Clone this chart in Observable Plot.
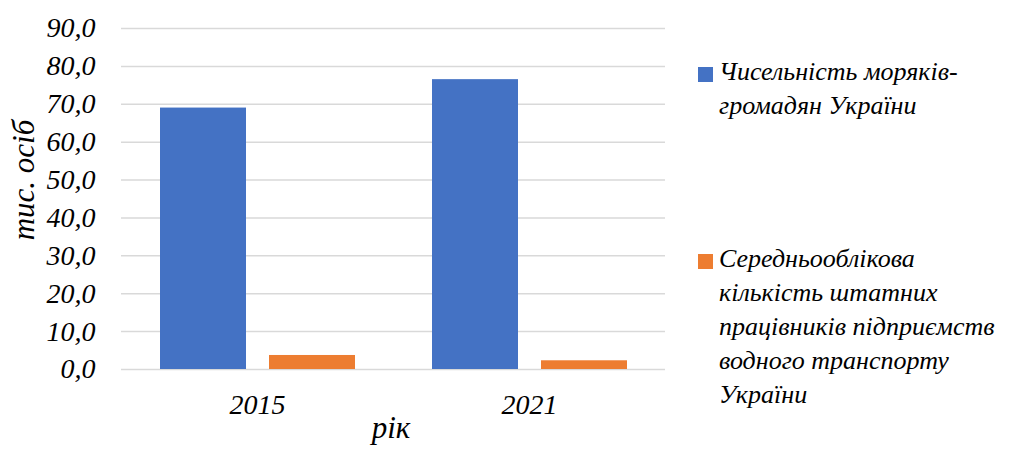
<!DOCTYPE html>
<html>
<head>
<meta charset="utf-8">
<script src="https://cdn.jsdelivr.net/npm/d3@7"></script>
<script src="https://cdn.jsdelivr.net/npm/@observablehq/plot@0.6"></script>
<style>
  html, body { margin: 0; padding: 0; background: #fff; }
  #wrap { position: relative; width: 1027px; height: 457px; font-family: "Liberation Serif", Tinos, "DejaVu Serif", serif; font-style: italic; }
  .legend { position: absolute; left: 698px; font-size: 26px; line-height: 34px; color: #000; }
  .legend .sw { position: absolute; left: 0; width: 15px; height: 15px; }
  .legend .tx { position: absolute; left: 21px; white-space: nowrap; }
  svg text { font-family: "Liberation Serif", Tinos, "DejaVu Serif", serif !important; }
</style>
</head>
<body>
<div id="wrap"></div>
<script>
const years = ["2015", "2021"];
const seriesNames = [
  "Чисельність моряків-громадян України",
  "Середньооблікова кількість штатних працівників підприємств водного транспорту України"
];
const legendLines = [
  ["Чисельність моряків-", "громадян України"],
  ["Середньооблікова", "кількість штатних", "працівників підприємств", "водного транспорту", "України"]
];
const seamenValues = [69.0, 76.5];
const staffValues = [3.7, 2.3];
const colors = ["#4472C4", "#ED7D31"];
const yTicks = [0, 10, 20, 30, 40, 50, 60, 70, 80, 90];

const data = [];
years.forEach((yr, i) => {
  data.push({year: yr, series: seriesNames[0], value: seamenValues[i]});
  data.push({year: yr, series: seriesNames[1], value: staffValues[i]});
});

const fmt = d => d3.format(".1f")(d).replace(".", ",");
const FONT = "'Liberation Serif', Tinos, 'DejaVu Serif', serif";

const plot = Plot.plot({
  width: 1027,
  height: 457,
  marginLeft: 120,
  marginRight: 362,
  marginTop: 28,
  marginBottom: 88,
  style: { fontFamily: FONT, fontStyle: "italic", fontSize: "28px", background: "transparent", color: "#000" },
  fx: { domain: years, paddingInner: 0, paddingOuter: 0, label: null, axis: "bottom", tickSize: 0, tickPadding: 25 },
  x: { domain: seriesNames, paddingInner: 0.2153, paddingOuter: 0.3507, axis: null },
  y: { domain: [0, 90], ticks: yTicks, tickFormat: fmt, tickSize: 0, tickPadding: 26, label: null },
  color: { domain: seriesNames, range: colors },
  marks: [
    Plot.gridY(yTicks, { stroke: "#d9d9d9", strokeOpacity: 1, strokeWidth: 1.5 }),
    Plot.barY(data, { fx: "year", x: "series", y: "value", fill: "series" })
  ]
});

const wrap = document.getElementById("wrap");
wrap.appendChild(plot);

const svg = d3.select(plot);
svg.append("text")
  .attr("transform", "translate(34,180) rotate(-90)")
  .attr("text-anchor", "middle")
  .attr("font-size", 31)
  .attr("font-style", "italic")
  .attr("fill", "#000")
  .text("тис. осіб");
svg.append("text")
  .attr("x", 391)
  .attr("y", 438)
  .attr("text-anchor", "middle")
  .attr("font-size", 31)
  .attr("font-style", "italic")
  .attr("fill", "#000")
  .text("рік");

const legendTops = [55, 242];
legendLines.forEach((lines, i) => {
  const g = document.createElement("div");
  g.className = "legend";
  g.style.top = legendTops[i] + "px";
  const sw = document.createElement("div");
  sw.className = "sw";
  sw.style.background = colors[i];
  sw.style.top = "12px";
  g.appendChild(sw);
  lines.forEach((ln, j) => {
    const t = document.createElement("div");
    t.className = "tx";
    t.style.top = (j * 34) + "px";
    t.textContent = ln;
    g.appendChild(t);
  });
  wrap.appendChild(g);
});
</script>
</body>
</html>
